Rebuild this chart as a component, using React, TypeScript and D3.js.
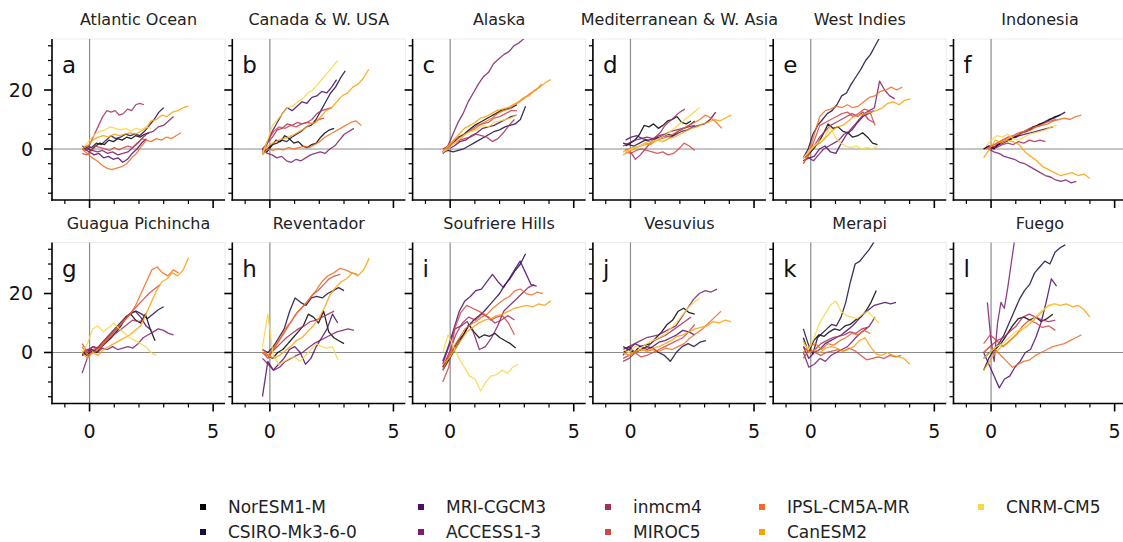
import React, { useEffect, useRef } from "react";
import * as d3 from "d3";

// model names, in legend order (column-wise, 5 columns)
const models = [
  "NorESM1-M",
  "CSIRO-Mk3-6-0",
  "MRI-CGCM3",
  "ACCESS1-3",
  "inmcm4",
  "MIROC5",
  "IPSL-CM5A-MR",
  "CanESM2",
  "CNRM-CM5",
];

const panelTitles = [
  "Atlantic Ocean", "Canada & W. USA", "Alaska", "Mediterranean & W. Asia", "West Indies", "Indonesia",
  "Guagua Pichincha", "Reventador", "Soufriere Hills", "Vesuvius", "Merapi", "Fuego",
];
const panelLetters = ["a", "b", "c", "d", "e", "f", "g", "h", "i", "j", "k", "l"];

const xTicksMajor = [0, 5];
const xTicksMinor = [-1, 1, 2, 3, 4];
const yTicksMajor = [0, 20];
const yTicksMinor = [-15, -10, -5, 5, 10, 15, 25, 30, 35];

// each series: [x start, x end, y values (evenly spaced in x)] one per model
type Series = [number, number, number[]];

const atlanticOcean: Series[] = [
  [-0.3, 2.4, [0, 0.5, -0.5, 1, 2, 1.5, 3, 2.5, 3.5, 3, 4, 3.5, 4.5, 4, 5, 5.5]],
  [-0.3, 3.0, [0, 1, 0.5, 2, 1.5, 3, 4.5, 3.5, 4, 5, 4.5, 5, 4.5, 6, 8, 10, 12.5, 14]],
  [-0.2, 2.3, [0, -1, -2, -1.5, -3, -2.5, -3.5, -3, -4.5, -3.5, -1.5, 0, 2, 3.5]],
  [-0.3, 3.4, [1, 0, -0.5, -1, -0.5, -1.5, -1, -2, -1.5, -1, 0.5, 2, 4, 5.5, 6, 7.5, 8, 9.5, 11]],
  [-0.3, 2.2, [0, -0.5, 2, 5, 8, 11, 13, 12.5, 13, 11.5, 12, 13.5, 13, 15, 15.5, 15]],
  [-0.3, 2.3, [-1.5, -2, -0.5, 1, 0.5, 0, -0.5, 0.5, -0.3, 0.5, 1, 0.5, 2, 3.5, 3]],
  [-0.3, 3.7, [0, -1.5, -3, -4, -5.5, -6.5, -7, -6.5, -6, -5, -3, -1.5, 1, 3, 2.5, 3.5, 3, 4, 3.5, 4.5, 5.5]],
  [-0.3, 4.0, [0, 1, 3, 4, 4.5, 4, 5, 4.5, 5, 5.5, 5, 6, 7, 9.5, 10, 11.5, 11, 12.5, 13, 14, 14.5]],
  [-0.2, 2.5, [1, 3, 5, 6, 6.5, 7.5, 7, 6.5, 7, 6, 7, 6.5, 7.5, 7]],
];

const canadaWUSA: Series[] = [
  [-0.3, 2.6, [0, -1, 1, 3, 2.5, 4.5, 3.5, 2, 2.5, 1, 0.5, 1.5, 2, 4, 5.5, 6.5, 7]],
  [-0.3, 3.05, [-1, 0, 1.5, 2, 3, 2.5, 4, 5, 6, 7.5, 8, 10, 13, 16, 19, 21, 24, 26.5]],
  [-0.3, 2.7, [-2, 2, 6, 9, 12, 14, 13, 14.5, 16, 15.5, 17.5, 18, 19.5, 19, 21, 23.5]],
  [-0.3, 3.4, [0, -1.5, -2, -3, -2.5, -4, -4.5, -3.5, -4, -3, -2, -1.5, -1, -1.5, 0, 1, 3, 5, 6, 7]],
  [-0.3, 2.5, [0, 2, 4, 6.5, 7, 8.5, 8, 9, 8.5, 9, 10, 12, 13, 13.5, 14]],
  [-0.3, 2.2, [-1, 3, 6, 7.5, 7, 8, 7.5, 8.5, 9, 8.5, 10, 10.5]],
  [-0.3, 3.7, [-2, 0, -0.5, 0, -0.3, 0.5, 0, 0.5, 1, 0.5, 1.5, 2.5, 4, 5, 6, 7, 8, 9, 9.5, 8]],
  [-0.3, 4.0, [-1, 1, 2, 3, 3.5, 4, 5, 6, 7, 8.5, 9, 11, 13, 14, 16, 18, 19, 21, 22, 24, 27]],
  [-0.3, 2.75, [-2, 3, 8, 10, 12, 14, 14.5, 16, 17, 19, 20, 22, 24, 26, 28, 30]],
];

const alaska: Series[] = [
  [-0.3, 2.7, [-1, 0, 2, 4, 5, 6.5, 8, 9, 10, 11, 12, 13, 13.5, 14, 15]],
  [-0.3, 3.05, [-1, -0.5, -1, -0.5, 0, 1, 2, 3, 4, 5, 6, 6.5, 7.5, 8, 8.5, 10, 14.5]],
  [-0.3, 2.7, [-1.5, 0, 1, 2.5, 3, 4.5, 5.5, 7, 7.5, 8, 9, 10, 11, 11.5]],
  [-0.3, 3.2, [-1, 1, 5, 9, 12, 16, 19, 22, 24.5, 26, 29, 30.5, 32, 33, 35, 36, 37.5, 38.5]],
  [-0.3, 2.6, [0, 1, 2, 3, 3.5, 4, 5, 4.5, 4, 2.5, 3.5, 5.5, 8, 10]],
  [-0.3, 2.7, [-1, 1, 3, 4, 5, 6.5, 8, 8.5, 9, 10.5, 11, 12, 13, 13]],
  [-0.3, 3.7, [-1.5, 0.5, 2, 3, 5, 6, 7, 8.5, 9.5, 10.5, 12, 13, 13.5, 15, 16, 17.5, 19, 20, 22]],
  [-0.3, 4.07, [-1, 1, 3, 5, 7, 8, 9, 10.5, 11, 12, 13, 13.5, 14, 15, 16, 17.5, 18, 20, 21, 22.5, 23.5]],
  [-0.3, 2.7, [-1, 0, 2, 3.5, 5, 6, 6.5, 8, 7.5, 9, 9.5, 10, 10.5, 11.5]],
];

const mediterranean: Series[] = [
  [-0.2, 2.45, [1, 2, 3, 5, 8, 7.5, 8.5, 7, 8, 9.5, 10, 11, 9, 8.5, 9.5]],
  [-0.3, 2.6, [2, 1.5, 1, 2, 3, 2.5, 3.5, 4, 5, 4.5, 6, 7, 8, 9.5]],
  [-0.2, 3.45, [3, 4, 4.5, 3.5, 3, 3.5, 4, 4.5, 4, 5, 6, 6.5, 7.5, 8, 8.5, 10, 12.5]],
  [-0.3, 2.6, [1, 2, 3, 3.5, 4, 3.5, 4.5, 5, 6, 6.5, 7, 7.5, 8]],
  [-0.2, 2.2, [0, -1, -3.5, -2, 0, 2, 4, 5.5, 8, 9.5, 11, 12.5, 13.5]],
  [-0.2, 2.6, [-1, -1.5, -0.5, 0, -0.5, -1, -1.5, -1, -2, -1.5, 0, 2, 1, -0.5]],
  [-0.3, 3.7, [-1, 0, 0.5, 1, 2, 1.5, 3, 3.5, 4, 5, 6, 7, 8, 9, 10, 11.5, 10.5, 9, 7]],
  [-0.3, 4.07, [-2, -1, 0, 1, 1.5, 2, 3, 2.5, 3.5, 4, 5, 6, 7, 7.5, 8.5, 9, 10, 9.5, 10.5, 11.5]],
  [-0.3, 2.8, [-1, -0.5, 0.5, 1, 2, 2.5, 3, 4, 5, 6.5, 8, 9.5, 11, 12.5, 14]],
];

const westIndies: Series[] = [
  [-0.3, 2.7, [-3, -2, 0, 2, 5, 8.5, 7, 7.5, 6, 5.5, 4, 4.5, 5.5, 4, 2, 1.5]],
  [-0.3, 2.8, [-3, 0, 5, 8, 10, 12, 13, 15, 18, 19, 22, 24.5, 27, 30, 32, 35, 38]],
  [-0.3, 2.55, [-4, -3, -2.5, 0, 1, -1, -1.5, 2, 5, 6.5, 9, 11, 12, 13]],
  [-0.3, 3.4, [-4, -3, -4, -2, 0, 1, 2, 3, 5, 6, 8, 10, 12, 13, 14, 23, 20, 18, 17]],
  [-0.3, 2.55, [-3, -1, 1, 4, 6, 8, 9, 10, 11, 12, 11, 12.5, 10, 9]],
  [-0.3, 2.6, [-5, -2, 3, 8, 9, 10, 11, 12, 12.5, 11, 12, 13.5, 13, 8]],
  [-0.3, 3.7, [-5, -1, 5, 11, 13, 13.5, 14.5, 14, 15, 14, 14.5, 16, 17.5, 18, 19.5, 20, 21, 20, 21]],
  [-0.3, 4.03, [-3, -1, 1, 2, 4, 6, 7.5, 8, 9.5, 11, 11.5, 12, 12.5, 13, 14, 15.5, 16, 15, 16.5, 17]],
  [-0.3, 2.7, [-3, -1, 1, 2.5, 4, 7.5, 4, 2, 1, 0.5, 1, 0, 0.5, 0, 1]],
];

const indonesia: Series[] = [
  [-0.3, 2.8, [0, 1, 0, 1.5, 2.5, 3, 4, 5, 6, 6.5, 7.5, 8.5, 9, 10, 11, 11.5]],
  [-0.3, 3.0, [0, 1, 0.5, 2, 2.5, 3.5, 4, 5.5, 6, 7.5, 8, 9, 10, 10.5, 11.5, 12.5]],
  [-0.2, 2.5, [1, 0, 1.5, 2, 3, 4, 4.5, 5, 5.5, 6, 6.5, 7, 7.5]],
  [-0.1, 3.45, [0, -1, -1.5, -2.5, -3, -3.5, -4.5, -5, -6, -7, -8, -9, -9.5, -10.5, -11, -10.5, -11.5, -11]],
  [-0.2, 2.2, [0, 1, 0.5, 1.5, 2, 1.5, 2.5, 2, 3, 2.5, 3, 2.5]],
  [-0.2, 2.65, [0, 1, 2, 3, 4, 4.5, 5.5, 6, 7, 7.5, 8, 9, 9.5, 10]],
  [-0.2, 3.65, [0, 1, 2, 3, 3.5, 4.5, 5, 6, 6.5, 7.5, 8, 8.5, 9.5, 10, 10.5, 10, 11, 11.5]],
  [-0.3, 4.0, [-3, 0, 3, 2, 3, 2.5, 1.5, -1, -2.5, -4, -6, -7, -8, -9, -8.5, -8, -9, -8.5, -10]],
  [-0.2, 2.65, [1, 3, 4.5, 4, 5, 3.5, 3, 4, 5, 5.5, 6, 6.5, 7.5, 8]],
];

const guaguaPichincha: Series[] = [
  [-0.3, 2.65, [0, -1, 1, 0, 2, 3.5, 5, 7, 9, 12, 13, 11, 10, 13, 8, 4]],
  [-0.3, 3.0, [-1, 1, 0, 2, 4, 6, 8, 10, 12, 13.5, 14, 13, 11.5, 13, 14.5, 15.5]],
  [-0.3, 2.5, [-1, 0, 2, 1.5, 3, 5, 7, 9, 11, 13, 14, 12, 9, 7.5]],
  [-0.3, 3.4, [-7, -2, 1, 0, 1.5, 1, 2, 1, 1.5, 2, 1.5, 3, 5, 6, 7, 8, 7.5, 6.5, 6]],
  [-0.3, 2.2, [0, 1, 2, 1, 3, 5, 6.5, 8, 9.5, 11, 10.5, 11]],
  [-0.3, 2.85, [3, 0, 1, 2, 4, 6, 8, 10, 12, 14, 16, 18, 20, 21.5, 23]],
  [-0.3, 3.6, [2, -1, 0, 1, 3, 5, 7, 9, 11, 13, 16, 20, 24, 28, 29, 27, 26, 28, 27]],
  [-0.3, 4.0, [0, -2, 0, -1, 1, 2, 3, 4, 5, 6, 7.5, 9, 13, 17, 21, 24, 25, 27, 26, 28, 32]],
  [-0.3, 2.7, [0, 3, 8, 9, 7, 8.5, 10, 8, 6.5, 5, 4, 3, 2, 0, -1]],
];

const reventador: Series[] = [
  [-0.3, 3.0, [0, -1, -2, 0, 1, 3, 5, 7, 9, 13, 12, 10, 14, 7, 5, 4, 3]],
  [-0.3, 3.0, [1, 0, 2, 5, 8, 14, 18.5, 17, 16, 18.5, 19, 18.5, 20, 21, 22, 21]],
  [-0.3, 2.75, [-15, -3, -6, -4, -2, 1, 2, 0, -4, -2, 2, 5, 8, 13, 10]],
  [-0.3, 3.4, [-2, -4, -6, -5, -3, -2, -1, 0, 1.5, 3, 4, 5, 6, 7, 7.5, 8, 7.5]],
  [-0.3, 2.6, [0, -1, 1, 3, 5, 6.5, 8, 9, 10.5, 11, 12, 13, 14]],
  [-0.3, 2.85, [0, -2, 1, 4, 7, 10, 13, 15, 17, 19.5, 21, 23, 25, 26, 26.5]],
  [-0.3, 3.55, [1, -1, 2, 5, 8.5, 11, 14, 16, 18.5, 21, 24, 26, 27, 28.5, 28, 27, 26.5]],
  [-0.3, 4.02, [0, -1, -2, -1, 0.5, 2, 4, 5, 7, 9, 11.5, 15, 19.5, 22, 24, 25, 27, 26, 28, 32]],
  [-0.3, 2.75, [2, 13, -1, -4, -3, -2, -1.5, -3, -1, 1, 3, 2, 1.5, 2, -2.5]],
];

const soufriereHills: Series[] = [
  [-0.3, 2.65, [-6, -3, 0, 3, 6, 9.5, 7, 5, 6, 5.5, 6.5, 5, 4, 3, 1.5]],
  [-0.3, 3.05, [-5, -2, 1, 4, 6, 9, 11, 12.5, 14, 16, 18, 20, 23, 25, 27.8, 30, 33.5]],
  [-0.3, 3.5, [-3, 2, 8, 14, 17.5, 19, 21, 21.5, 24, 26.5, 24, 22, 25, 28, 31, 27, 23, 22.5]],
  [-0.3, 3.4, [-4, 2, 8, 9, 10.5, 7, 1, 2, 5, 9, 14, 16, 18, 20, 22, 23]],
  [-0.3, 2.6, [-5, 0, 6, 10, 12, 11, 13, 12, 10, 11, 12.5, 11]],
  [-0.3, 2.6, [-10, -5, 8, 13.5, 16, 15, 14, 13, 11, 12, 12.5, 10, 6]],
  [-0.3, 3.75, [-6, -2, 2, 5, 8, 9.5, 10.5, 12, 13, 15, 16.5, 18, 19, 21, 21.5, 20, 19.5, 20.5, 20]],
  [-0.3, 4.07, [-4, -2, 1, 4, 7, 8.5, 10, 11, 11.5, 12.5, 13, 14, 15, 15.5, 16, 15.5, 16.5, 16, 17.5]],
  [-0.3, 2.75, [0, 6, 2, -2, -5, -8, -9, -13, -10, -8, -7.5, -6, -7, -5, -4]],
];

const vesuvius: Series[] = [
  [-0.3, 2.6, [0, 1, 0, 2, 2.5, 3, 5, 7, 9.5, 11, 14, 15, 13.5, 13]],
  [-0.3, 3.05, [1, 2, 0, 1, 2, 1.5, 0, -1, -3, 0, 2, 3, 2, 3.5, 4]],
  [-0.3, 2.6, [2, 1, 3, 2, 1, 2, 3.5, 4, 5, 6, 7.5, 7, 6]],
  [-0.3, 3.5, [-1, 2, 3, 4, 5, 5.5, 6, 7, 8, 9, 12, 15, 18, 20, 21, 20.5, 21.5]],
  [-0.3, 2.45, [-3, -2, 0, 1, 2, 4, 5, 6, 7.5, 9, 10.5, 12]],
  [-0.3, 2.6, [-2, -1, 0, -1.5, -1, 0, 1, 2, 3, 4, 5, 7, 9.5]],
  [-0.3, 3.66, [0, -1, 0, 1, 0.5, 1, 0.5, 1.5, 1, 2, 3, 5, 6.5, 8, 10, 12, 14]],
  [-0.3, 4.07, [0, -1, 0.5, 1, 0.5, 1.5, 2, 3, 4, 5.5, 6, 7, 8, 8.5, 9, 10.5, 10, 11, 10.5]],
  [-0.3, 2.8, [1, 0, 2, 1.5, 3, 4, 5, 6, 8, 10, 12.5, 15, 17, 18.5]],
];

const merapi: Series[] = [
  [-0.3, 2.65, [5, 0, 4, 6, 5.5, 7, 8, 7.5, 9, 9.5, 11, 12, 14, 17, 21]],
  [-0.3, 2.75, [8, 3, -0.5, 5, 6.5, 8, 9.5, 9, 12, 17, 24, 30, 31, 33, 35, 37.5, 39]],
  [-0.3, 3.45, [2, -2, 0, 1, 3, 4, 5, 6, 7.5, 9, 11, 13, 14.5, 16, 16.5, 17, 16.5, 17]],
  [-0.3, 2.6, [0, -5, -4, -2, -3, -1, 0, 1, 2, 4, 6, 7.5, 9, 12]],
  [-0.3, 2.3, [2, 0, 1, 3, 4, 5, 5.5, 6, 7, 6.5, 8, 8.5]],
  [-0.3, 3.66, [-2, 1, 0, -1, 0, 0.5, 1, 0.5, 1.5, 0.5, -1, -2.5, -2, -1.5, -2, -1, -1.5, -1]],
  [-0.3, 2.4, [0, 2, 3, 1, 3, 2.5, 4, 5, 6.5, 6, 7.5, 6.5]],
  [-0.3, 4.0, [4, 0, 1, 0, 1.5, 2, 1.5, 0.5, 1, 2, 4, 5, 2, -0.5, -1, 0, -1, -1.5, -2, -4]],
  [-0.3, 2.75, [3, 1, 5, 10, 13, 16, 17.5, 14, 12.5, 12, 11.5, 13, 14, 12, 10]],
];

const fuego: Series[] = [
  [-0.3, 2.5, [-2, 0, 1, 3, 6, 9, 11.5, 12, 11, 12, 10.5, 11.5, 13]],
  [-0.3, 3.0, [-6, -2, 1, 3, 6, 10, 14, 18, 21, 23, 27, 29, 31, 30, 34, 35.5, 36.5]],
  [-0.3, 2.65, [0, -4, -8, -12, -9, -8, -5, -3, 0, 1, 5, 10, 17, 25, 22.5]],
  [-0.15, 0.95, [17, 5, -3, 10, 17, 15, 22, 30, 38]],
  [-0.3, 2.6, [0, 2, 4, 5, 7, 9, 12, 13, 12, 11, 10.5, 11]],
  [-0.3, 2.6, [3, 6, 4, 2, 4, 6, 9, 11, 10, 8.5, 9, 7.5]],
  [-0.3, 3.66, [0, 2, 1, -1, -3, -5, -4, -3, -2.5, -1, 0, 1, 2, 2.5, 3, 4, 5, 6]],
  [-0.3, 4.0, [-6, -3, 0, 2, 3, 5, 7, 8.5, 10, 12, 14, 16, 16.5, 16, 16.5, 15.5, 16, 14.5, 12]],
  [-0.3, 2.8, [-2, 0, 2, 3, 5, 7, 8, 9.5, 12, 14, 15.5, 16.5, 16]],
];

const panels = [
  atlanticOcean, canadaWUSA, alaska, mediterranean, westIndies, indonesia,
  guaguaPichincha, reventador, soufriereHills, vesuvius, merapi, fuego,
];

const colors = models.map((_, i) => d3.interpolateInferno((i * 0.9) / 8));

const W = 1123;
const H = 542;
const PW = 173;
const PH = 161;
const colLeft = (c: number) => 52 + c * 180.3;
const rowTop = [39, 242.5];
const FONT = "'DejaVu Sans', sans-serif";

// legend layout: columns hold 2 entries each
const legendX = [203, 421, 608, 762, 981];
const legendY = [507, 532];

export default function App() {
  const ref = useRef<SVGSVGElement>(null);

  useEffect(() => {
    const svg = d3.select(ref.current);
    svg.selectAll("*").remove();

    const x = d3.scaleLinear().domain([-1.52, 5.48]).range([0, PW]);
    const y = d3.scaleLinear().domain([-17.3, 37.3]).range([PH, 0]);
    const line = d3
      .line<[number, number]>()
      .x((d) => x(d[0]))
      .y((d) => y(d[1]));

    panels.forEach((series, p) => {
      const row = Math.floor(p / 6);
      const col = p % 6;
      const g = svg
        .append("g")
        .attr("transform", `translate(${colLeft(col)},${rowTop[row]})`);

      const clipId = `clip-${p}`;
      g.append("clipPath")
        .attr("id", clipId)
        .append("rect")
        .attr("width", PW)
        .attr("height", PH);

      // faint frame
      g.append("rect")
        .attr("width", PW)
        .attr("height", PH)
        .attr("fill", "none")
        .attr("stroke", "#e6e6e6")
        .attr("stroke-width", 0.8);

      // reference lines at 0
      g.append("line")
        .attr("x1", x(0)).attr("x2", x(0))
        .attr("y1", 0).attr("y2", PH)
        .attr("stroke", "#8c8c8c").attr("stroke-width", 1.2);
      g.append("line")
        .attr("x1", 0).attr("x2", PW)
        .attr("y1", y(0)).attr("y2", y(0))
        .attr("stroke", "#8c8c8c").attr("stroke-width", 1.2);

      // model lines
      const lines = g.append("g").attr("clip-path", `url(#${clipId})`);
      series.forEach(([x0, x1, ys], m) => {
        const pts: [number, number][] = ys.map((v, i) => [
          x0 + ((x1 - x0) * i) / (ys.length - 1),
          v,
        ]);
        lines
          .append("path")
          .attr("d", line(pts))
          .attr("fill", "none")
          .attr("stroke", colors[m])
          .attr("stroke-width", 1.3)
          .attr("stroke-opacity", 0.85)
          .attr("stroke-linejoin", "round");
      });

      // spines
      g.append("line")
        .attr("x1", 0).attr("x2", 0).attr("y1", 0).attr("y2", PH + 0.8)
        .attr("stroke", "#000").attr("stroke-width", 1.6);
      g.append("line")
        .attr("x1", -0.8).attr("x2", PW).attr("y1", PH).attr("y2", PH)
        .attr("stroke", "#000").attr("stroke-width", 1.6);

      // ticks
      yTicksMajor.forEach((t) =>
        g.append("line").attr("x1", -8).attr("x2", 0)
          .attr("y1", y(t)).attr("y2", y(t))
          .attr("stroke", "#000").attr("stroke-width", 1.6)
      );
      yTicksMinor.forEach((t) =>
        g.append("line").attr("x1", -4).attr("x2", 0)
          .attr("y1", y(t)).attr("y2", y(t))
          .attr("stroke", "#000").attr("stroke-width", 1.2)
      );
      xTicksMajor.forEach((t) =>
        g.append("line").attr("x1", x(t)).attr("x2", x(t))
          .attr("y1", PH).attr("y2", PH + 8)
          .attr("stroke", "#000").attr("stroke-width", 1.6)
      );
      xTicksMinor.forEach((t) =>
        g.append("line").attr("x1", x(t)).attr("x2", x(t))
          .attr("y1", PH).attr("y2", PH + 4)
          .attr("stroke", "#000").attr("stroke-width", 1.2)
      );

      // tick labels
      if (col === 0) {
        yTicksMajor.forEach((t) =>
          g.append("text")
            .attr("x", -19).attr("y", y(t))
            .attr("dy", "0.36em")
            .attr("text-anchor", "end")
            .attr("font-family", FONT).attr("font-size", 19)
            .attr("fill", "#111")
            .text(t)
        );
      }
      if (row === 1) {
        xTicksMajor.forEach((t) =>
          g.append("text")
            .attr("x", x(t)).attr("y", PH + 34)
            .attr("text-anchor", "middle")
            .attr("font-family", FONT).attr("font-size", 19)
            .attr("fill", "#111")
            .text(t)
        );
      }

      // title and letter
      g.append("text")
        .attr("x", PW / 2).attr("y", -14)
        .attr("text-anchor", "middle")
        .attr("font-family", FONT).attr("font-size", 16)
        .attr("fill", "#222")
        .text(panelTitles[p]);
      g.append("text")
        .attr("x", 10).attr("y", 34)
        .attr("font-family", FONT).attr("font-size", 23)
        .attr("fill", "#111")
        .text(panelLetters[p]);
    });

    // legend
    models.forEach((name, i) => {
      const cx = legendX[Math.floor(i / 2)];
      const cy = legendY[i % 2];
      svg.append("rect")
        .attr("x", cx - 3).attr("y", cy - 3)
        .attr("width", 6).attr("height", 6)
        .attr("fill", colors[i]);
      svg.append("text")
        .attr("x", cx + 25).attr("y", cy)
        .attr("dy", "0.36em")
        .attr("font-family", FONT).attr("font-size", 17)
        .attr("fill", "#222")
        .text(name);
    });
  }, []);

  return (
    <svg
      ref={ref}
      width={W}
      height={H}
      style={{ position: "absolute", left: 0, top: 0, background: "#fff" }}
    />
  );
}
